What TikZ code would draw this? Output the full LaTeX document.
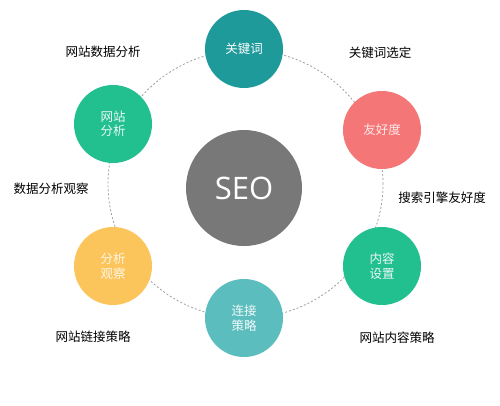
\documentclass[tikz,border=0pt]{standalone}
\usepackage{fontspec}
\newfontfamily\cjk{Noto Sans CJK SC}
\newfontfamily\seofont{Open Sans}
\definecolor{cteal}{HTML}{1E9A9A}
\definecolor{csalmon}{HTML}{F47677}
\definecolor{cgreen}{HTML}{22BF8F}
\definecolor{cyellow}{HTML}{FCC55C}
\definecolor{clteal}{HTML}{5BBDBE}
\definecolor{cgray}{HTML}{787878}
\definecolor{cring}{HTML}{A0A0A0}
\tikzset{
  ball/.style={circle, minimum size=78pt, inner sep=0pt, align=center,
    text=white, font=\cjk\fontsize{12.5}{14.5}\selectfont},
  lbl/.style={font=\cjk\fontsize{12.5}{15}\selectfont, text=black, inner sep=0pt},
  ring/.style={draw=cring, line width=0.8pt, dash pattern=on 2pt off 2pt}
}
\begin{document}
\begin{tikzpicture}[x=1pt,y=-1pt]
\useasboundingbox[fill=white] (0,0) rectangle (500,405);
\coordinate (ringc) at (245.5,184);
\draw[ring] (ringc) ellipse [x radius=137.5pt, y radius=134pt];
\node[ball, fill=cgray, minimum size=116pt, font=\seofont\fontsize{31}{36}\selectfont] (seo) at (244,188) {SEO};
\node[ball, fill=cteal] (kw) at (244,49) {关键词};
\node[ball, fill=csalmon, text=white!85!csalmon] (yh) at (382,130) {友好度};
\node[ball, fill=cgreen, text=white!90!cgreen] (nr) at (382,266) {内容\\设置};
\node[ball, fill=clteal, text=white!92!clteal] (lj) at (244,318) {连接\\策略};
\node[ball, fill=cyellow, text=white!85!cyellow] (fx) at (113,266) {分析\\观察};
\node[ball, fill=cgreen, text=white!90!cgreen] (wz) at (113,124) {网站\\分析};
\node[lbl] (l1) at (103,52) {网站数据分析};
\node[lbl] (l2) at (380,53) {关键词选定};
\node[lbl] (l3) at (442,198) {搜索引擎友好度};
\node[lbl] (l4) at (51,189) {数据分析观察};
\node[lbl] (l5) at (93,337) {网站链接策略};
\node[lbl] (l6) at (397,338) {网站内容策略};
\end{tikzpicture}
\end{document}
